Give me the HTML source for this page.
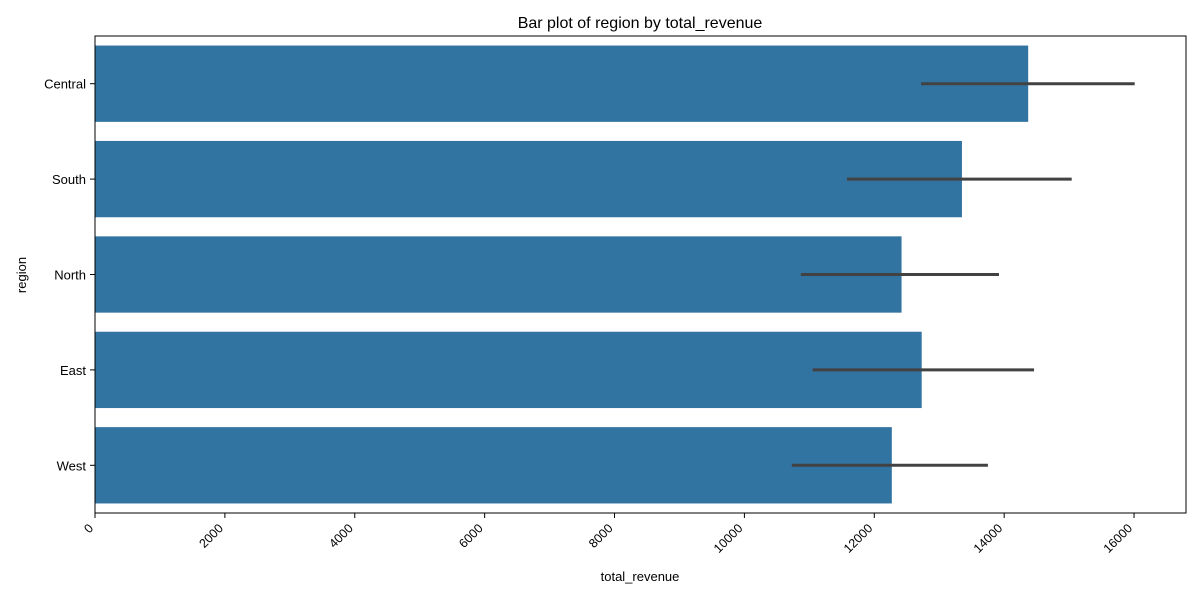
<!DOCTYPE html>
<html><head><meta charset="utf-8"><style>
body{margin:0;background:#fff;font-family:"Liberation Sans","DejaVu Sans",sans-serif;}
</style></head><body>
<svg id="chart" width="1200" height="600" xmlns="http://www.w3.org/2000/svg" font-family="Liberation Sans, DejaVu Sans, sans-serif">
<rect width="1200" height="600" fill="#fff"/>
<text x="640" y="28" text-anchor="middle" font-size="16">Bar plot of region by total_revenue</text>
<text x="640" y="581" text-anchor="middle" font-size="13">total_revenue</text>
<text x="26" y="275" text-anchor="middle" font-size="13" transform="rotate(-90 26 275)">region</text>
<g id="plot"></g>
</svg>
<script>
const categories=["Central","South","North","East","West"];
const values=[14370,13350,12420,12730,12270];
const ciLow=[12720,11580,10870,11050,10730];
const ciHigh=[16010,15040,13920,14460,13750];
const xTicks=[0,2000,4000,6000,8000,10000,12000,14000,16000];
const L=95,R=1186,T=36,B=513,XMAX=16800;
const x=v=>L+(v/XMAX)*(R-L);
const band=(B-T)/categories.length;
const yc=i=>T+band*(i+0.5);
const g=document.getElementById('plot');
const NS="http://www.w3.org/2000/svg";
function mk(t,a){const e=document.createElementNS(NS,t);for(const k in a)e.setAttribute(k,a[k]);g.appendChild(e);return e;}
categories.forEach((c,i)=>{
 const r=mk('rect',{x:x(0),y:yc(i)-band*0.4,width:x(values[i])-x(0),height:band*0.8,fill:'#3274a1'});
 
 
 const l=mk('line',{x1:x(ciLow[i]),x2:x(ciHigh[i]),y1:yc(i),y2:yc(i),stroke:'#424242','stroke-width':3});
 
 
 mk('line',{x1:L-5,x2:L,y1:yc(i),y2:yc(i),stroke:'#000','stroke-width':1});
 const t=mk('text',{x:L-9,y:yc(i)+5,'text-anchor':'end','font-size':13});
 t.textContent=c;
 
 
});
xTicks.forEach(v=>{
 const px=x(v);
 mk('line',{x1:px,x2:px,y1:B,y2:B+5,stroke:'#000','stroke-width':1});
 const ax=px-1, ay=B+16;
 const t=mk('text',{x:ax,y:ay,'text-anchor':'end','font-size':12.5,transform:`rotate(-45 ${ax} ${ay})`});
 t.textContent=v;
 
 
});
const f=mk('rect',{x:L,y:T,width:R-L,height:B-T,fill:'none',stroke:'#000','stroke-width':1});


</script>
</body></html>
